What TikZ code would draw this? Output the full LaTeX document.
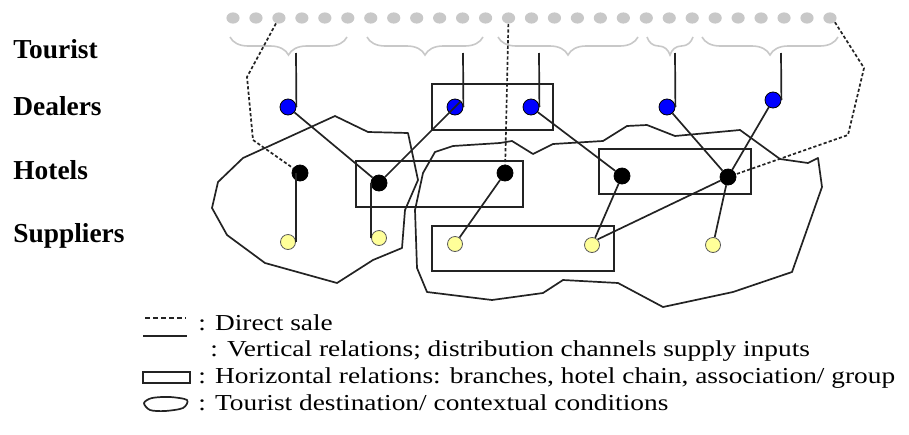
\documentclass[tikz,border=0pt]{standalone}
\usepackage{fontspec}
\setmainfont{Liberation Serif}
\newfontfamily\legendfont{Liberation Serif}[FakeStretch=1.2]
\usepackage{tikz}
\usetikzlibrary{shapes.geometric,decorations.pathreplacing}
\definecolor{dealerblue}{RGB}{0,0,255}
\definecolor{suppyellow}{RGB}{255,255,153}
\definecolor{dotgray}{RGB}{200,200,200}
\definecolor{inkgray}{RGB}{35,35,35}
\tikzset{
  dealer/.style={circle, draw=black, line width=0.4pt, fill=dealerblue,
    minimum size=8pt, inner sep=0pt},
  hotel/.style={circle, draw=black, fill=black, minimum size=8pt, inner sep=0pt},
  supplier/.style={circle, draw=black!65, line width=0.4pt, fill=suppyellow,
    minimum size=7.5pt, inner sep=0pt},
  touristdot/.style={ellipse, fill=dotgray, minimum width=6.6pt,
    minimum height=5.6pt, inner sep=0pt},
  groupbrace/.style={decorate, decoration={brace, mirror, amplitude=9pt},
    draw=dotgray, line width=0.8pt},
  link/.style={draw=inkgray, line width=0.85pt},
  direct/.style={draw=inkgray, line width=0.85pt, dash pattern=on 1.6pt off 1.1pt},
  group/.style={draw=inkgray, line width=0.85pt},
  area/.style={draw=inkgray, line width=0.85pt, line join=round},
  level/.style={font=\fontsize{13.7}{16}\selectfont\bfseries, inner sep=0pt},
  legend/.style={font=\legendfont\fontsize{11.4}{14}\selectfont, inner sep=0pt}
}
\begin{document}
\begin{tikzpicture}[x=0.5pt, y=-0.5pt]
  \useasboundingbox (0,0) rectangle (909,434);
  % destinations
  \draw[area] (335,116) -- (368,132) -- (408,133) -- (418,180) -- (405,210)
    -- (402,248) -- (373,260) -- (337,283) -- (265,263) -- (227,235)
    -- (212,208) -- (218,182) -- (243,158) -- cycle;
  \draw[area] (435,152) -- (453,146) -- (500,143) -- (512,141) -- (533,154)
    -- (553,144) -- (603,141) -- (627,126) -- (647,125) -- (675,136)
    -- (740,130) -- (780,159) -- (808,163) -- (818,158) -- (822,187)
    -- (792,272) -- (733,292) -- (663,307) -- (618,283) -- (563,280)
    -- (543,293) -- (492,300) -- (427,292) -- (417,268) -- (415,210)
    -- (423,173) -- cycle;
  % horizontal relations
  \draw[group] (432,84) rectangle (553,130);
  \draw[group] (356,161) rectangle (523,207);
  \draw[group] (599,149) rectangle (751,194);
  \draw[group] (432,226) rectangle (614,271);

  % levels
  \node[level, anchor=base west] (tourist) at (13,58) {Tourist};
  \node[level, anchor=base west] (dealers) at (13,115) {Dealers};
  \node[level, anchor=base west] (hotels) at (13,179) {Hotels};
  \node[level, anchor=base west] (suppliers) at (13,242) {Suppliers};

  % tourists and their groups
  \foreach \i in {0,...,26}
    \node[touristdot] (dot\i) at ({233+22.96*\i},18) {};
  \foreach \a/\b in {230/347, 367/483, 498/638, 647/693, 702/838}
    \draw[groupbrace] (\a,37) -- (\b,37);

  % dealers, hotels, suppliers
  \node[dealer] (dealer1) at (288,107) {};
  \node[dealer] (dealer2) at (455,107) {};
  \node[dealer] (dealer3) at (531,107) {};
  \node[dealer] (dealer4) at (667,107) {};
  \node[dealer] (dealer5) at (773,100) {};
  \node[hotel] (hotel1) at (300,173) {};
  \node[hotel] (hotel2) at (379,183) {};
  \node[hotel] (hotel3) at (505,173) {};
  \node[hotel] (hotel4) at (622,176) {};
  \node[hotel] (hotel5) at (728,177) {};
  \node[supplier] (supp1) at (288,242) {};
  \node[supplier] (supp2) at (379,238) {};
  \node[supplier] (supp3) at (455,244) {};
  \node[supplier] (supp4) at (592,245) {};
  \node[supplier] (supp5) at (713,245) {};

  % vertical relations
  \coordinate (top1) at (296,53);
  \coordinate (top2) at (463,53);
  \coordinate (top3) at (539,53);
  \coordinate (top4) at (675,53);
  \coordinate (top5) at (781,53);
  \foreach \i in {1,...,5}
    \draw[link] (top\i) -- (dealer\i.east);
  \draw[link] (dealer1) -- (hotel2);
  \draw[link] (hotel2) -- (dealer2.north east);
  \draw[link] (dealer3) -- (hotel4);
  \draw[link] (dealer4) -- (hotel5);
  \draw[link] (dealer5) -- (hotel5);
  \draw[link] (supp1.east) -- (supp1.east |- hotel1.center);
  \draw[link] (supp2.west) -- (supp2.west |- hotel2.center);
  \draw[link] (hotel3) -- (supp3);
  \draw[link] (hotel4) -- (supp4);
  \draw[link] (hotel5) -- (supp4.north east);
  \draw[link] (hotel5) -- (supp5);

  % direct sale
  \draw[direct] (dot2) -- (247,77) -- (253,140) -- (hotel1);
  \draw[direct] (dot12) -- (hotel3);
  \draw[direct] (dot26.south east) -- (864,68) -- (848,135) -- (hotel5);

  % legend
  \draw[inkgray, line width=1.1pt, dash pattern=on 2.6pt off 1.4pt] (145,318) -- (186,318);
  \node[legend, anchor=base west] (keydirect) at (198,330) {: Direct sale};
  \draw[link] (143,336) -- (187,336);
  \node[legend, anchor=base west] (keyvertical) at (210,356)
    {: Vertical relations; distribution channels supply inputs};
  \draw[group] (143,372) rectangle (190,383);
  \node[legend, anchor=base west] (keyhorizontal) at (198,383)
    {: Horizontal relations: branches, hotel chain, association/ group};
  \draw[area] plot[smooth cycle] coordinates {(144,403) (152,398) (170,397)
    (187,400) (183,408) (165,411) (150,410)};
  \node[legend, anchor=base west] (keyarea) at (198,410)
    {: Tourist destination/ contextual conditions};
\end{tikzpicture}
\end{document}
